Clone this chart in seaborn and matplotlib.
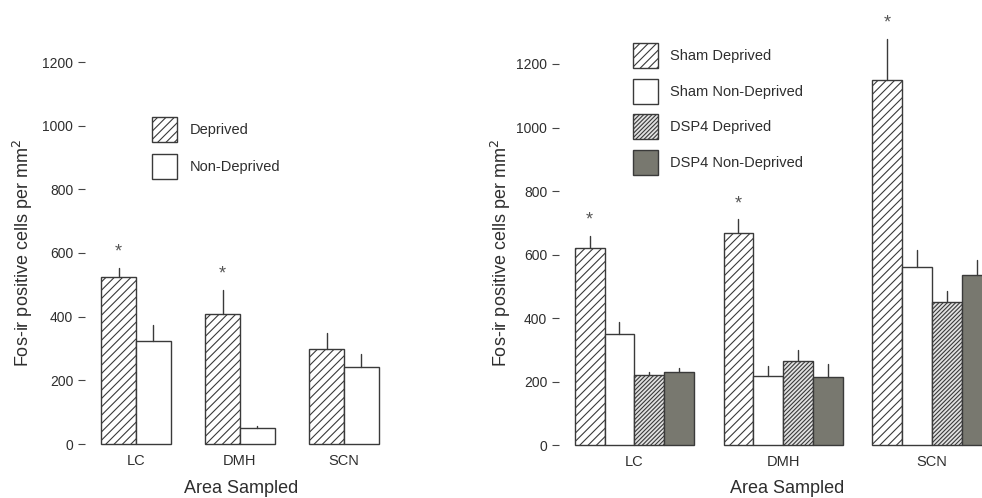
import numpy as np
import pandas as pd
import matplotlib
matplotlib.use("Agg")
import matplotlib.pyplot as plt
import seaborn as sns
from matplotlib.patches import Patch

# ---------------- data ----------------
areas = ["LC", "DMH", "SCN"]

left_groups = ["Deprived", "Non-Deprived"]
left_deprived = [526, 409, 298]
left_deprived_err = [28, 74, 51]
left_nondeprived = [325, 50, 241]
left_nondeprived_err = [50, 8, 42]
left_sig = [True, True, False]

right_groups = ["Sham Deprived", "Sham Non-Deprived", "DSP4 Deprived", "DSP4 Non-Deprived"]
sham_dep = [622, 668, 1149]
sham_dep_err = [38, 43, 129]
sham_nondep = [349, 219, 562]
sham_nondep_err = [38, 31, 54]
dsp4_dep = [220, 265, 450]
dsp4_dep_err = [11, 35, 35]
dsp4_nondep = [231, 216, 535]
dsp4_nondep_err = [11, 39, 48]
right_sig = [True, True, True]

yticks = [0, 200, 400, 600, 800, 1000, 1200]
ylabel = "Fos-ir positive cells per mm$^2$"
xlabel = "Area Sampled"

# ---------------- style ----------------
sns.set_theme(style="white")
plt.rcParams["font.family"] = ["Liberation Sans", "DejaVu Sans"]
plt.rcParams["hatch.linewidth"] = 0.8
TXT = "#2e2e2e"
EDGE = "#3a3a3a"

styles = {
    "Deprived": dict(face="white", hatch="////"),
    "Non-Deprived": dict(face="white", hatch=None),
    "Sham Deprived": dict(face="white", hatch="////"),
    "Sham Non-Deprived": dict(face="white", hatch=None),
    "DSP4 Deprived": dict(face="#e2e2e2", hatch="////////"),
    "DSP4 Non-Deprived": dict(face="#78786f", hatch=None),
}

W, H = 982, 498
fig = plt.figure(figsize=(W / 100, H / 100), dpi=100)


def make_ax(left_px, right_px, zero_px, px_per_unit, ylim):
    bottom_px = zero_px - ylim[0] * px_per_unit
    top_px = zero_px - ylim[1] * px_per_unit
    return fig.add_axes([left_px / W, 1 - bottom_px / H,
                         (right_px - left_px) / W, (bottom_px - top_px) / H])


def panel(ax, groups, values, errs, sig, width, xlim, ylim, leg_xy, ylab_x,
          xlab_x, labelspacing):
    rows = []
    for g, vals in zip(groups, values):
        for a, v in zip(areas, vals):
            rows.append(dict(Area=a, Group=g, value=v))
    df = pd.DataFrame(rows)
    pal = {g: styles[g]["face"] for g in groups}
    sns.barplot(data=df, x="Area", y="value", hue="Group", hue_order=groups,
                order=areas, palette=pal, width=width, edgecolor=EDGE,
                linewidth=1.0, errorbar=None, legend=False, ax=ax,
                saturation=1)
    for cont, g, err in zip(ax.containers, groups, errs):
        for bar, e in zip(cont, err):
            bar.set_facecolor(styles[g]["face"])
            bar.set_edgecolor(EDGE)
            if styles[g]["hatch"]:
                bar.set_hatch(styles[g]["hatch"])
            x = bar.get_x() + bar.get_width() / 2
            top = bar.get_height()
            ax.plot([x, x], [top, top + e], color=EDGE, lw=1.0, zorder=3)
    # significance asterisks above first group
    first = ax.containers[0]
    for bar, e, s in zip(first, errs[0], sig):
        if s:
            x = bar.get_x() + bar.get_width() / 2
            ax.text(x, bar.get_height() + e + 50, "*", ha="center", va="center",
                    fontsize=13, color="#555555")
    ax.set_xlim(*xlim)
    ax.set_ylim(*ylim)
    ax.set_yticks(yticks)
    ax.set_yticklabels([str(t) for t in yticks])
    for sp in ax.spines.values():
        sp.set_visible(False)
    ax.tick_params(axis="y", left=True, length=5, width=0.8, color="#444444",
                   direction="out", pad=3.5, labelsize=10, labelcolor=TXT)
    ax.tick_params(axis="x", bottom=False, length=0, pad=6, labelsize=10.5,
                   labelcolor=TXT)
    ax.set_xlabel(xlabel, fontsize=13, color=TXT)
    ax.set_ylabel(ylabel, fontsize=13, color=TXT)
    ax.yaxis.set_label_coords(ylab_x / W, 1 - 253 / H, transform=fig.transFigure)
    ax.xaxis.set_label_coords(xlab_x / W, 1 - 480 / H, transform=fig.transFigure)
    ax.set_facecolor("none")
    handles = [Patch(facecolor=styles[g]["face"], edgecolor=EDGE, linewidth=1.0,
                     hatch=styles[g]["hatch"], label=g) for g in groups]
    ax.legend(handles=handles, loc="upper left",
              bbox_to_anchor=(leg_xy[0] / W, 1 - leg_xy[1] / H),
              bbox_transform=fig.transFigure, frameon=False, fontsize=10.5,
              handlelength=1.72, handleheight=2.26, handletextpad=0.85,
              labelspacing=labelspacing, borderpad=0, borderaxespad=0,
              labelcolor=TXT)


# left panel
axL = make_ax(85, 420, 444.0, 382 / 1200, (-5, 1390))
panel(axL, left_groups,
      [left_deprived, left_nondeprived],
      [left_deprived_err, left_nondeprived_err],
      left_sig, width=0.673, xlim=((85 - 136) / 104, (420 - 136) / 104),
      ylim=(-5, 1390), leg_xy=(152, 117), ylab_x=35, xlab_x=241,
      labelspacing=0.82)

# right panel
axR = make_ax(559, 982, 445.3, 381.3 / 1200, (-5, 1400))
panel(axR, right_groups,
      [sham_dep, sham_nondep, dsp4_dep, dsp4_nondep],
      [sham_dep_err, sham_nondep_err, dsp4_dep_err, dsp4_nondep_err],
      right_sig, width=0.8, xlim=((559 - 634.3) / 148.8, (982 - 634.3) / 148.8),
      ylim=(-5, 1400), leg_xy=(633, 43), ylab_x=513, xlab_x=787,
      labelspacing=0.73)

fig.savefig("out.png", dpi=100, facecolor="white")
